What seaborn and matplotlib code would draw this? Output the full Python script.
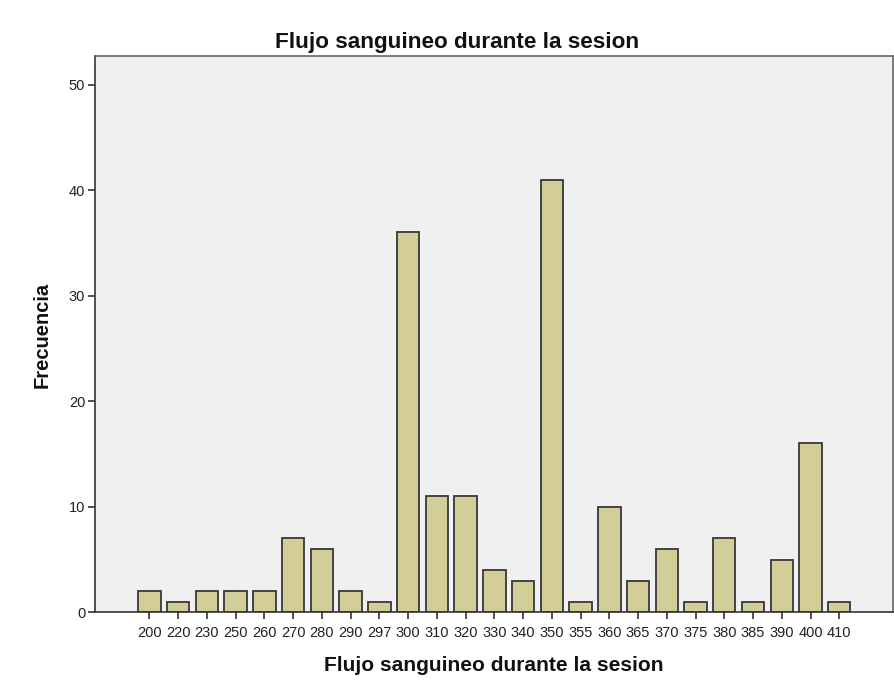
import matplotlib
matplotlib.use("Agg")
import matplotlib.pyplot as plt
import seaborn as sns
import pandas as pd

categories = ["200", "220", "230", "250", "260", "270", "280", "290", "297", "300",
              "310", "320", "330", "340", "350", "355", "360", "365", "370", "375",
              "380", "385", "390", "400", "410"]
frecuencia = [2, 1, 2, 2, 2, 7, 6, 2, 1, 36, 11, 11, 4, 3, 41, 1, 10, 3, 6, 1, 7, 1, 5, 16, 1]
yticks = [0, 10, 20, 30, 40, 50]

df = pd.DataFrame({"flujo": categories, "freq": frecuencia})

sns.set_style("white")
plt.rcParams['font.family'] = ['Liberation Sans', 'DejaVu Sans']

fig = plt.figure(figsize=(8.94, 6.94), dpi=100)
ax = fig.add_axes([0.1063, 0.1177, 0.8926, 0.8016])
ax.set_facecolor("#F0F0F0")

sns.barplot(data=df, x="flujo", y="freq", order=categories, color="#D3CE97",
            saturation=1, width=0.78, edgecolor="#383838", linewidth=1.3, ax=ax)

ax.set_xlim(-1.89, 25.87)
ax.set_ylim(0, 52.7)
ax.set_yticks(yticks)
ax.set_yticklabels([str(v) for v in yticks])
ax.tick_params(axis="both", direction="out", length=5, width=1.2, color="#333333",
               labelsize=10.5, labelcolor="#222222", bottom=True, left=True)
ax.tick_params(axis="x", pad=5)
ax.tick_params(axis="y", pad=2)

for s in ["left", "bottom"]:
    ax.spines[s].set_color("#333333")
    ax.spines[s].set_linewidth(1.2)
for s in ["top", "right"]:
    ax.spines[s].set_color("#666666")
    ax.spines[s].set_linewidth(1.2)
    ax.spines[s].set_visible(True)

ax.set_xlabel("")
ax.set_ylabel("")

fig.text(457.5 / 894, 1 - 48 / 694, "Flujo sanguineo durante la sesion",
         fontsize=16.2, fontweight="bold", ha="center", va="baseline", color="#111111")
fig.text(493.5 / 894, 23 / 694, "Flujo sanguineo durante la sesion",
         fontsize=15.1, fontweight="bold", ha="center", va="baseline", color="#111111")
fig.text(42 / 894, 1 - 335 / 694, "Frecuencia", rotation=90,
         fontsize=14.5, fontweight="bold", ha="center", va="center", color="#111111")

fig.savefig("out.png", dpi=100, facecolor="white")
